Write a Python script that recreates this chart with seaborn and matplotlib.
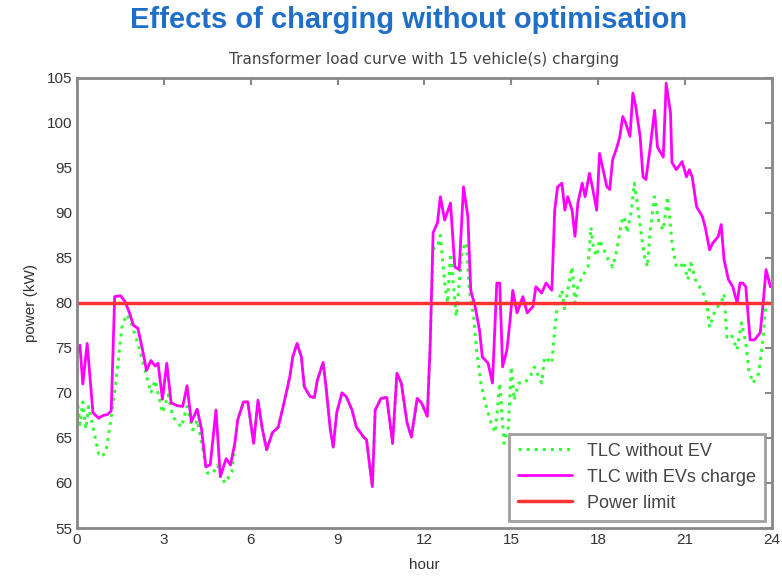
import numpy as np
import pandas as pd
import matplotlib
matplotlib.use("Agg")
import matplotlib.pyplot as plt
import seaborn as sns

# ── Data ─────────────────────────────────────────────────────────────────────
HOURS_EV = [
    0.0, 0.1, 0.2, 0.35, 0.55, 0.75, 0.9, 1.05, 1.18, 1.3, 1.5, 1.65, 1.8, 1.95,
    2.1, 2.25, 2.4, 2.55, 2.7, 2.8, 2.95, 3.1, 3.25, 3.45, 3.65, 3.8, 3.95, 4.15,
    4.3, 4.45, 4.6, 4.8, 4.95, 5.15, 5.3, 5.45, 5.55, 5.75, 5.9, 6.1, 6.25, 6.4,
    6.55, 6.75, 6.95, 7.15, 7.35, 7.45, 7.6, 7.75, 7.85, 8.05, 8.2, 8.3, 8.5, 8.6,
    8.75, 8.85, 8.97, 9.15, 9.3, 9.5, 9.65, 9.9, 10.0, 10.2, 10.3, 10.5, 10.7,
    10.9, 11.05, 11.2, 11.4, 11.55, 11.75, 11.9, 12.1, 12.2, 12.3, 12.45, 12.55,
    12.7, 12.9, 13.05, 13.2, 13.35, 13.5, 13.6, 13.75, 13.9, 14.0, 14.2, 14.35,
    14.5, 14.6, 14.7, 14.85, 14.95, 15.05, 15.2, 15.4, 15.55, 15.75, 15.85, 16.05,
    16.2, 16.4, 16.5, 16.6, 16.75, 16.85, 16.95, 17.1, 17.2, 17.3, 17.45, 17.55,
    17.7, 17.8, 17.95, 18.05, 18.15, 18.3, 18.4, 18.5, 18.65, 18.75, 18.85, 18.95,
    19.1, 19.2, 19.3, 19.45, 19.55, 19.65, 19.8, 19.95, 20.05, 20.25, 20.35, 20.5,
    20.55, 20.7, 20.9, 21.05, 21.15, 21.25, 21.4, 21.6, 21.7, 21.85, 21.95, 22.15,
    22.25, 22.35, 22.5, 22.65, 22.8, 22.9, 23.0, 23.1, 23.25, 23.4, 23.6, 23.7,
    23.8, 23.95,
]
LOAD_EV = [
    74.5, 75.3, 71.0, 75.5, 67.8, 67.2, 67.5, 67.6, 68.0, 80.7, 80.8, 80.2, 79.0, 77.5,
    77.2, 75.0, 72.5, 73.6, 73.0, 73.3, 69.3, 73.3, 68.9, 68.6, 68.5, 70.8, 66.8, 68.2,
    66.0, 61.8, 62.0, 68.1, 60.7, 62.7, 62.0, 64.4, 67.0, 69.0, 69.0, 64.4, 69.2, 66.0,
    63.7, 65.6, 66.2, 68.9, 71.8, 74.0, 75.5, 74.0, 70.7, 69.6, 69.5, 71.4, 73.4, 70.7,
    65.9, 64.0, 67.8, 70.0, 69.6, 68.1, 66.2, 65.1, 64.8, 59.6, 68.1, 69.4, 69.5,
    64.4, 72.2, 71.1, 66.7, 65.1, 69.4, 68.9, 67.4, 75.5, 87.8, 88.9, 91.8,
    89.2, 91.1, 84.0, 83.7, 92.9, 89.6, 81.4, 79.6, 77.0, 74.0, 73.3, 71.1,
    82.2, 82.2, 72.9, 74.8, 77.8, 81.4, 78.9, 80.7, 78.9, 79.6, 81.8, 81.1,
    82.2, 81.4, 90.3, 92.9, 93.3, 90.3, 91.8, 90.3, 87.4, 91.1, 93.3, 91.8,
    94.4, 92.9, 90.3, 96.6, 95.1, 92.9, 92.6, 95.9, 97.3, 98.5, 100.7, 100.0,
    98.5, 103.3, 101.8, 98.5, 94.0, 93.7, 97.3, 101.4, 97.3, 96.2, 104.4, 101.1,
    95.6, 94.8, 95.7, 94.0, 94.8, 94.0, 90.7, 89.6, 88.4, 85.9, 86.6, 87.4,
    88.7, 84.8, 82.6, 81.8, 80.0, 82.2, 82.2, 81.8, 75.9, 75.9, 76.7, 80.0,
    83.7, 81.8,
]

HOURS_BASE_AM = [
    0.0, 0.1, 0.2, 0.3, 0.4, 0.5, 0.6, 0.75, 0.85, 1.0, 1.1, 1.2, 1.35, 1.55, 1.7,
    1.85, 1.95, 2.1, 2.35, 2.55, 2.7, 2.95, 3.15, 3.3, 3.6, 3.8, 4.0, 4.15, 4.3,
    4.5, 4.7, 4.85, 5.1, 5.35, 5.45,
]
LOAD_BASE_AM = [
    69.5, 66.5, 69.0, 66.0, 68.5, 67.0, 65.5, 63.2, 62.9, 63.5, 65.6, 67.8, 71.4, 77.3, 78.7,
    78.0, 77.0, 75.5, 72.6, 70.0, 71.4, 67.8, 69.8, 67.4, 66.2, 68.5, 65.9, 67.0, 64.5,
    61.1, 61.1, 62.0, 60.0, 61.2, 64.4,
]
HOURS_BASE_PM = [
    12.3, 12.45, 12.55, 12.7, 12.8, 12.9, 13.1, 13.3, 13.45, 13.55, 13.7, 13.8, 13.95,
    14.1, 14.3, 14.45, 14.6, 14.75, 14.9, 15.0, 15.1, 15.25, 15.45, 15.65, 15.8, 16.05,
    16.15, 16.4, 16.5, 16.6, 16.75, 16.85, 16.95, 17.1, 17.2, 17.3, 17.45, 17.65, 17.75,
    17.85, 17.95, 18.05, 18.2, 18.35, 18.5, 18.65, 18.8, 18.9, 19.0, 19.15, 19.25, 19.35,
    19.5, 19.6, 19.7, 19.8, 19.95, 20.1, 20.25, 20.4, 20.55, 20.7, 20.85, 20.95, 21.1,
    21.2, 21.4, 21.6, 21.75, 21.85, 22.05, 22.25, 22.35, 22.45, 22.6, 22.8, 22.95, 23.1,
    23.2, 23.35, 23.55, 23.7, 23.8, 23.95,
]
LOAD_BASE_PM = [
    86.0, 86.2, 87.5, 82.2, 80.0, 85.5, 78.5, 85.9, 86.7, 81.4, 78.5, 74.8, 71.1,
    68.9, 66.7, 65.6, 71.1, 64.4, 66.2, 72.9, 69.2, 71.1, 71.1, 71.8, 72.9, 71.1,
    74.0, 73.3, 77.0, 80.0, 81.4, 79.2, 81.4, 84.0, 80.0, 81.8, 82.9, 84.0, 88.4,
    85.9, 85.2, 87.0, 85.9, 84.8, 84.0, 85.9, 88.9, 89.6, 87.8, 90.3, 93.3, 91.1,
    87.4, 85.2, 84.0, 88.1, 91.8, 88.9, 88.1, 91.8, 86.7, 84.0, 84.0, 84.6, 82.6,
    84.4, 82.2, 81.4, 80.0, 77.3, 79.3, 80.0, 81.0, 76.2, 76.5, 74.8, 77.8, 75.6,
    72.6, 71.1, 72.2, 76.2, 80.0, 80.0,
]

POWER_LIMIT = 80
N_VEHICLES = 15
X_TICKS = [0, 3, 6, 9, 12, 15, 18, 21, 24]
Y_TICKS = [55, 60, 65, 70, 75, 80, 85, 90, 95, 100, 105]

# ── Build frames ─────────────────────────────────────────────────────────────
ev = pd.DataFrame({'hour': HOURS_EV, 'power': LOAD_EV})
# between the morning and evening sections the base load is the same as with EVs
mid = ev[(ev['hour'] > HOURS_BASE_AM[-1]) & (ev['hour'] < HOURS_BASE_PM[0])]
base = pd.concat([
    pd.DataFrame({'hour': HOURS_BASE_AM, 'power': LOAD_BASE_AM}),
    mid,
    pd.DataFrame({'hour': HOURS_BASE_PM, 'power': LOAD_BASE_PM}),
], ignore_index=True)

# ── Style ────────────────────────────────────────────────────────────────────
sns.set_style("white")
plt.rcParams['font.family'] = ['Liberation Sans', 'DejaVu Sans']

fig = plt.figure(figsize=(7.82, 5.81), dpi=100)
ax = fig.add_axes([0.0985, 0.0912, 0.8885, 0.7748])

sns.lineplot(data=base, x='hour', y='power', ax=ax, color='#33ff33',
             linestyle=':', linewidth=2.2, label='TLC without EV', sort=False)
sns.lineplot(data=ev, x='hour', y='power', ax=ax, color='#ff00ff',
             linewidth=2.0, label='TLC with EVs charge', sort=False)
ax.axhline(POWER_LIMIT, color='#ff3333', linewidth=2.5, label='Power limit')

ax.set_xlim(0, 24)
ax.set_ylim(55, 105)
ax.set_xticks(X_TICKS)
ax.set_yticks(Y_TICKS)
ax.tick_params(direction='in', top=True, right=True, length=5, width=1.5,
               color='#888888', labelsize=11, labelcolor='#333333')
for s in ax.spines.values():
    s.set_color('#888888')
    s.set_linewidth(2)

ax.set_xlabel('hour', fontsize=11, color='#333333', labelpad=8)
ax.set_ylabel('power (kW)', fontsize=11, color='#333333', labelpad=6)
ax.set_title(f'Transformer load curve with {N_VEHICLES} vehicle(s) charging',
             fontsize=11, color='#444444', pad=10, family='DejaVu Sans')
fig.suptitle('Effects of charging without optimisation', x=0.522, y=0.99,
             fontsize=21, fontweight='bold', color='#1f6fc8')

leg = ax.legend(loc='lower right', fontsize=13, frameon=True, fancybox=False,
                borderaxespad=0.4, handlelength=3.0, labelspacing=0.5,
                borderpad=0.5)
leg.get_frame().set_edgecolor('#888888')
leg.get_frame().set_linewidth(2)
for t in leg.get_texts():
    t.set_color('#444444')

fig.savefig('out.png', dpi=100)
